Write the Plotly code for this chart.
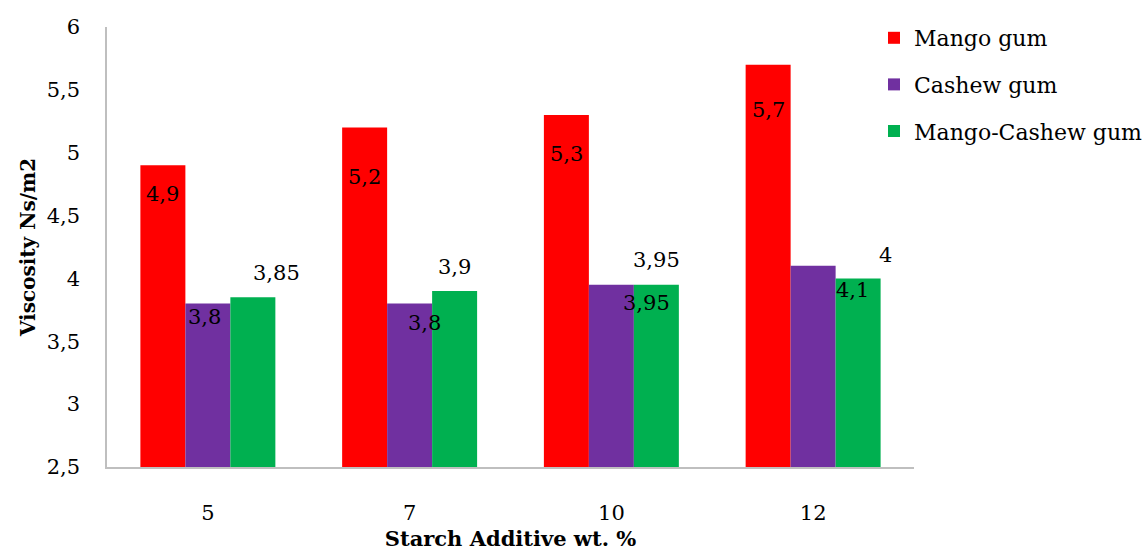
import plotly.graph_objects as go

# Starch additive content (wt. %) on the x axis
categories = ["5", "7", "10", "12"]

# Viscosity (Ns/m2) for each gum
mango_gum = [4.9, 5.2, 5.3, 5.7]
cashew_gum = [3.8, 3.8, 3.95, 4.1]
mango_cashew_gum = [3.85, 3.9, 3.95, 4.0]

series_names = ["Mango gum", "Cashew gum", "Mango-Cashew gum"]
series_values = [mango_gum, cashew_gum, mango_cashew_gum]
series_colors = ["#FF0000", "#7030A0", "#00B050"]

# Pixel offsets (dx, dy downward) of each value label from the top-centre of its bar
label_offsets = [
    [(0, 28), (0, 48), (0, 38), (0, 44)],
    [(-3, 12), (15, 18), (35, 17), (39, 23)],
    [(24, -25), (0, -25), (0, -26), (27, -24)],
]

FONT = "DejaVu Serif"
N_SERIES = len(series_names)
BARGAP = 0.331

fig = go.Figure()
for name, vals, color in zip(series_names, series_values, series_colors):
    fig.add_trace(go.Bar(
        x=categories, y=vals, name=name,
        marker=dict(color=color, line=dict(width=0)),
        legendgroup=name,
    ))


def fmt(v):
    s = f"{v:g}"
    return s.replace(".", ",")


# Value labels, positioned relative to each bar within its group
annotations = []
bar_frac = (1 - BARGAP) / N_SERIES
for si, vals in enumerate(series_values):
    for ci, v in enumerate(vals):
        dx, dy = label_offsets[si][ci]
        annotations.append(dict(
            x=ci + (si - (N_SERIES - 1) / 2) * bar_frac,
            y=v, xref="x", yref="y",
            text=fmt(v), showarrow=False,
            xanchor="center", yanchor="middle",
            xshift=dx, yshift=-dy - 1,
            font=dict(family=FONT, size=21, color="#000000"),
        ))

fig.update_layout(
    width=1143, height=551,
    margin=dict(l=107, r=229, t=27, b=84, autoexpand=False),
    paper_bgcolor="white", plot_bgcolor="white",
    barmode="group", bargap=BARGAP, bargroupgap=0,
    font=dict(family=FONT, color="#000000"),
    showlegend=True,
    legend=dict(
        x=874 / 1143, y=1 - 17 / 551, xref="container", yref="container",
        xanchor="left", yanchor="top",
        font=dict(family=FONT, size=22, color="#000000"),
        tracegroupgap=15, traceorder="grouped",
        bgcolor="rgba(0,0,0,0)",
    ),
    annotations=annotations,
)

fig.update_xaxes(
    type="category", range=[-0.5, len(categories) - 0.5],
    automargin=False,
    showline=True, linecolor="#BFBFBF", linewidth=1.5,
    showgrid=False, zeroline=False,
    ticks="outside", ticklen=0, ticklabelstandoff=26,
    tickfont=dict(family=FONT, size=21, color="#000000"),
    title=dict(text="<b>Starch Additive wt. %</b>", standoff=11,
               font=dict(family=FONT, size=21, color="#000000")),
)

fig.update_yaxes(
    range=[2.5, 6], tickvals=[2.5, 3, 3.5, 4, 4.5, 5, 5.5, 6],
    ticktext=["2,5", "3", "3,5", "4", "4,5", "5", "5,5", "6"],
    automargin=False,
    showline=True, linecolor="#BFBFBF", linewidth=1.5,
    showgrid=False, zeroline=False,
    ticks="outside", ticklen=0, ticklabelstandoff=21,
    tickfont=dict(family=FONT, size=21, color="#000000"),
    title=dict(text="<b>Viscosity Ns/m2</b>", standoff=6,
               font=dict(family=FONT, size=20, color="#000000")),
)

fig.write_html("out.html")
